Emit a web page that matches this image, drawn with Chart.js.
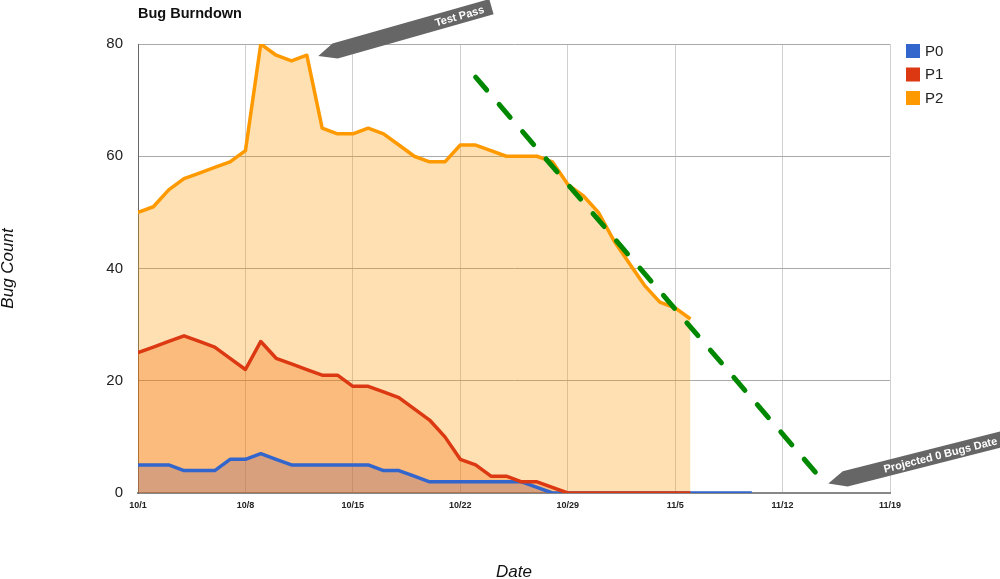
<!DOCTYPE html>
<html>
<head>
<meta charset="utf-8">
<script src="https://cdn.jsdelivr.net/npm/chart.js@4/dist/chart.umd.min.js"></script>
<style>
html, body { margin: 0; padding: 0; background: #fff; }
#wrap { width: 1000px; height: 579px; }
</style>
</head>
<body>
<div id="wrap"><canvas id="chart"></canvas></div>
<script>
// days since 10/1, one value per day
var tickLabels = ['10/1', '10/8', '10/15', '10/22', '10/29', '11/5', '11/12', '11/19'];
var seriesNames = ['P0', 'P1', 'P2'];
var p0Values = [5, 5, 5, 4, 4, 4, 6, 6, 7, 6, 5, 5, 5, 5, 5, 5, 4, 4, 3, 2,
                2, 2, 2, 2, 2, 2, 1, 0, 0, 0, 0, 0, 0, 0, 0, 0, 0, 0, 0, 0, 0];
var p1Values = [25, 26, 27, 28, 27, 26, 24, 22, 27, 24, 23, 22, 21, 21, 19, 19, 18, 17, 15, 13,
                10, 6, 5, 3, 3, 2, 2, 1, 0, 0, 0, 0, 0, 0, 0, 0, 0];
var p2Values = [50, 51, 54, 56, 57, 58, 59, 61, 80, 78, 77, 78, 65, 64, 64, 65, 64, 62, 60, 59,
                59, 62, 62, 61, 60, 60, 60, 59, 55, 53, 50, 45, 41, 37, 34, 33, 31];
var projDays = [22, 44.8];
var projValues = [74.1, 1.6];

var lineColors = ['#3366cc', '#dc3912', '#ff9900'];

function toPoints(values) {
    return values.map(function(v, i) { return {x: i, y: v}; });
}

// gray ribbon callouts, tip given in data units
var callouts = [
    {text: 'Test Pass', x: 11.75, y: 77.85, angle: -15.8, length: 180},
    {text: 'Projected 0 Bugs Date', x: 44.98, y: 1.7, angle: -14.2, length: 182}
];

var extrasPlugin = {
    id: 'extras',
    afterDraw: function(chart) {
        var ctx = chart.ctx;
        var area = chart.chartArea;
        var xs = chart.scales.x, ys = chart.scales.y;

        ctx.save();
        // title
        ctx.fillStyle = '#111';
        ctx.font = 'bold 14.5px Arial, "Liberation Sans", sans-serif';
        ctx.textAlign = 'left';
        ctx.textBaseline = 'alphabetic';
        ctx.fillText('Bug Burndown', area.left, 18);

        // legend
        ctx.font = '15px Arial, "Liberation Sans", sans-serif';
        ctx.textBaseline = 'middle';
        for (var i = 0; i < seriesNames.length; i++) {
            var cy = 51 + i * 23.5;
            ctx.fillStyle = lineColors[i];
            ctx.fillRect(area.right + 16, cy - 7, 14, 14);
            ctx.fillStyle = '#222';
            ctx.fillText(seriesNames[i], area.right + 35, cy + 0.5);
        }

        // callouts
        callouts.forEach(function(c) {
            var px = xs.getPixelForValue(c.x);
            var py = ys.getPixelForValue(c.y);
            var L = c.length;
            ctx.save();
            ctx.translate(px, py);
            ctx.rotate(c.angle * Math.PI / 180);
            ctx.fillStyle = '#666';
            ctx.beginPath();
            ctx.moveTo(0, 0);
            ctx.lineTo(17, -8.3);
            ctx.lineTo(L, -8.3);
            ctx.lineTo(L, 7.6);
            ctx.lineTo(18, 7.6);
            ctx.closePath();
            ctx.fill();
            ctx.fillStyle = '#fff';
            ctx.font = 'bold 11px Arial, "Liberation Sans", sans-serif';
            ctx.textAlign = 'right';
            ctx.textBaseline = 'middle';
            ctx.fillText(c.text, L - 8, 0.5);
            ctx.restore();
        });
        ctx.restore();
    }
};

function drawChart() {
    Chart.defaults.font.family = 'Arial, "Liberation Sans", sans-serif';
    Chart.defaults.color = '#222';

    var ctx = document.getElementById('chart').getContext('2d');
    new Chart(ctx, {
        type: 'line',
        data: {
            datasets: [{
                label: seriesNames[0],
                data: toPoints(p0Values),
                borderColor: lineColors[0],
                backgroundColor: 'rgba(94,96,175,0.3)',
                fill: 'origin',
                order: 2
            }, {
                label: seriesNames[1],
                data: toPoints(p1Values),
                borderColor: lineColors[1],
                backgroundColor: 'rgba(238,100,0,0.3)',
                fill: 'origin',
                order: 1
            }, {
                label: seriesNames[2],
                data: toPoints(p2Values),
                borderColor: lineColors[2],
                backgroundColor: 'rgba(255,153,0,0.3)',
                fill: 'origin',
                order: 3
            }, {
                label: 'Projection',
                data: projDays.map(function(d, i) { return {x: d, y: projValues[i]}; }),
                borderColor: '#008800',
                borderWidth: 5,
                borderDash: [17, 19],
                borderCapStyle: 'round',
                fill: false,
                order: 0
            }]
        },
        options: {
            responsive: true,
            maintainAspectRatio: false,
            animation: false,
            layout: {padding: {top: 44, right: 110, left: 0, bottom: 0}},
            elements: {
                point: {radius: 0, hoverRadius: 0},
                line: {borderWidth: 3.5, tension: 0, borderJoinStyle: 'round'}
            },
            plugins: {
                legend: {display: false},
                tooltip: {enabled: false},
                filler: {drawTime: 'beforeDatasetsDraw'}
            },
            scales: {
                x: {
                    type: 'linear',
                    min: 0,
                    max: 49,
                    afterFit: function(scale) { scale.height = 86; },
                    grid: {color: '#d0d0d0', drawTicks: false},
                    border: {color: '#888', width: 2},
                    ticks: {
                        stepSize: 7,
                        padding: 7,
                        font: {size: 9, weight: 'bold'},
                        color: '#222',
                        callback: function(v) { return tickLabels[v / 7]; }
                    },
                    title: {
                        display: true,
                        text: 'Date',
                        font: {size: 17, style: 'italic', lineHeight: 1},
                        color: '#111',
                        padding: {top: 0, bottom: -1.5}
                    }
                },
                y: {
                    min: 0,
                    max: 80,
                    afterFit: function(scale) { scale.width = 138; },
                    grid: {color: '#aaaaaa', drawTicks: false},
                    border: {color: '#666', width: 1},
                    ticks: {stepSize: 20, padding: 15, font: {size: 15}, color: '#222'},
                    title: {
                        display: true,
                        text: 'Bug Count',
                        font: {size: 17, style: 'italic', lineHeight: 1},
                        color: '#111',
                        padding: 0
                    }
                }
            }
        },
        plugins: [extrasPlugin]
    });
}

drawChart();
</script>
</body>
</html>
